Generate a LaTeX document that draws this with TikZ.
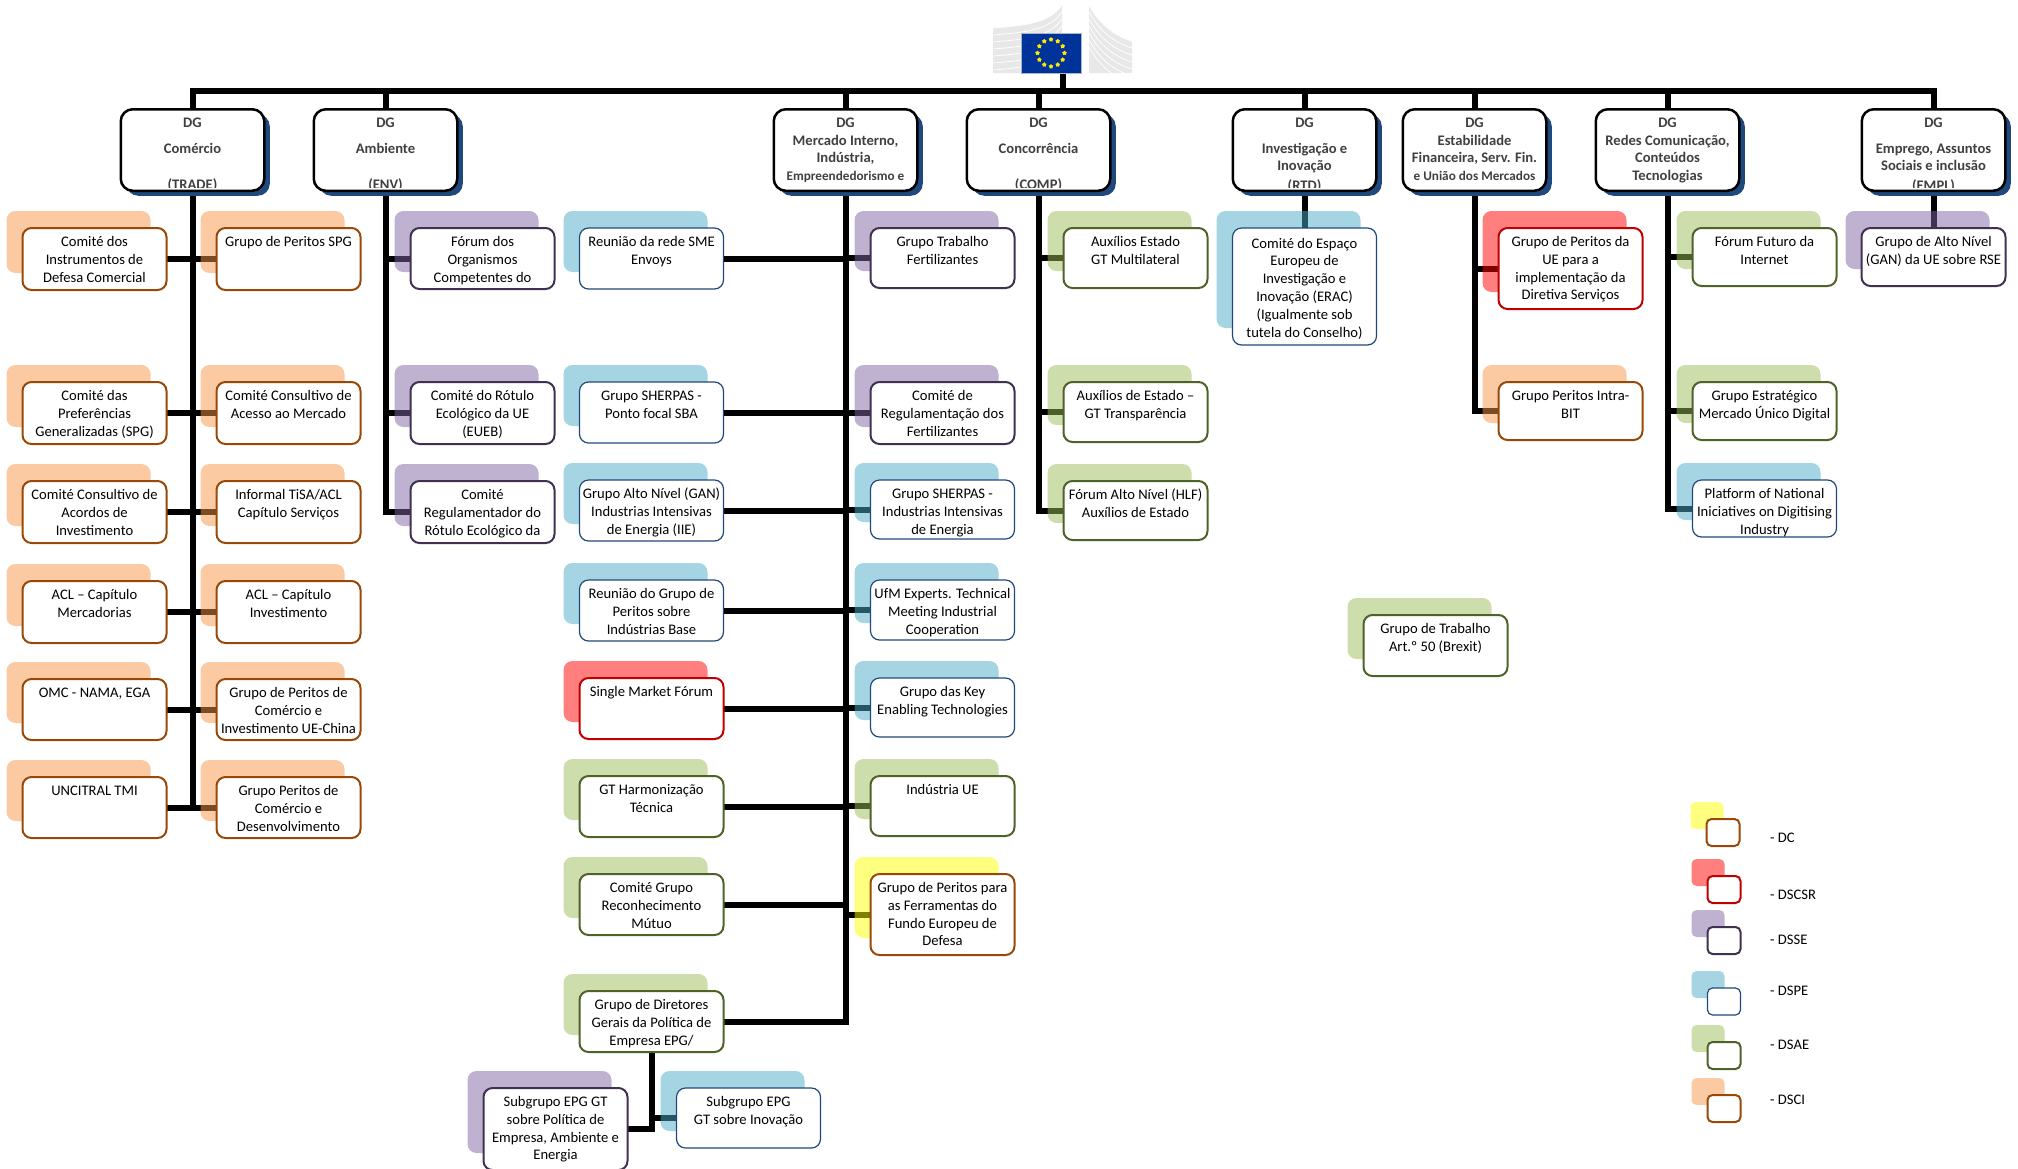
\documentclass[tikz,border=0pt]{standalone}
\usepackage{fontspec}
\setmainfont{Carlito}
\usetikzlibrary{shadows,backgrounds,shapes.geometric,calc}

\definecolor{dscback}{HTML}{FFFF00}
\definecolor{dscsrback}{HTML}{FF0000}
\definecolor{dsseback}{HTML}{8064A2}
\definecolor{dspeback}{HTML}{4BACC6}
\definecolor{dsaeback}{HTML}{9BBB59}
\definecolor{dsciback}{HTML}{F79646}
\definecolor{dsciline}{HTML}{984807}
\definecolor{dscsrline}{HTML}{C00000}
\definecolor{dsseline}{HTML}{403152}
\definecolor{dspeline}{HTML}{1F497D}
\definecolor{dsaeline}{HTML}{4F6228}
\definecolor{dgshadow}{HTML}{1F497D}
\definecolor{dgtextcol}{HTML}{404040}
\definecolor{flagblue}{HTML}{003399}
\definecolor{wing}{HTML}{E8E8E8}

\newcommand{\kidfont}{\fontsize{14.6}{17.8}\selectfont}
\newcommand{\kidtxt}[2]{\parbox[c][\dimexpr#1pt-2pt\relax][t]{144pt}{\centering\rule{0pt}{18.5pt}#2}}

\tikzset{
    kid/.style={draw, fill=white, rounded corners=9pt, anchor=north west, minimum width=144pt,
        inner sep=0pt, outer sep=0pt, line width=2pt, font=\kidfont, xshift=0.5pt, yshift=-1pt},
    back/.style={general shadow={fill=#1, fill opacity=0.5, shadow xshift=-16pt, shadow yshift=17pt}},
    dc/.style={kid, draw=dsciline, back=dscback},
    dscsr/.style={kid, draw=dscsrline, back=dscsrback},
    dsse/.style={kid, draw=dsseline, back=dsseback},
    dspe/.style={kid, draw=dspeline, line width=1.2pt, back=dspeback},
    dsae/.style={kid, draw=dsaeline, back=dsaeback},
    dsci/.style={kid, draw=dsciline, back=dsciback},
    dg/.style n args={2}{draw, fill=white, rounded corners=12pt, anchor=north west, line width=2.5pt,
        minimum width=143.5pt, minimum height=81.5pt, inner sep=0pt, outer sep=0pt, xshift=0.75pt, yshift=-1.25pt,
        general shadow={fill=dgshadow, shadow xshift=5.5pt, shadow yshift=-5pt},
        path picture={
            \clip (path picture bounding box.north west) rectangle ([yshift=3.5pt]path picture bounding box.south east);
            \node[anchor=north, inner sep=0pt, minimum width=0pt, minimum height=0pt, text=dgtextcol, font=\kidfont\bfseries] (#1)
            at (path picture bounding box.north) {\parbox[t]{143.5pt}{\centering\rule{0pt}{18pt}#2}};}},
    small/.style={minimum width=33pt, minimum height=27pt, rounded corners=5pt},
    legtxt/.style={anchor=west, inner sep=0pt, font=\kidfont},
    staricon/.style={star, star points=5, fill=yellow!90!orange, inner sep=0pt, minimum size=5pt},
}

\begin{document}
\begin{tikzpicture}[x=1pt, y=-1pt]
    \useasboundingbox (0,0) rectangle (2018,1168);
    % logo
    \fill[wing] (993,73) -- (993,28) .. controls (1030,25) and (1050,22) .. (1062,5) -- (1062,73) -- cycle;
    \fill[wing] (1089,5) .. controls (1100,25) and (1115,36) .. (1132,41) -- (1132,73) -- (1089,73) -- cycle;
    \foreach \d in {0,7,...,42} {
        \draw[white, line width=0.8pt] (993,28+\d) .. controls (1030,25+\d) and (1050,22+\d) .. (1062,5+\d);
        \draw[white, line width=0.8pt] (1089,5+\d) .. controls (1100,25+\d) and (1115,36+\d) .. (1132,41+\d);
    }
    \node[draw=dspeline!40, fill=flagblue, anchor=north west, minimum width=60pt, minimum height=40pt,
        inner sep=0pt, outer sep=0pt] (flag) at (1021,33) {};
    \foreach \i in {1,...,12} {
        \node[staricon] (star\i) at ($(flag.center)+({30*\i}:13.5pt)$) {};
    }
    \coordinate (logo) at (1062.5,73);
    \coordinate (bar) at (0,91);

    % DG
    \node[dg={tradetxt}{DG\\[8pt]Comércio\\[19pt](TRADE)}] (trade) at (120,108) {};
    \node[dg={envtxt}{DG\\[8pt]Ambiente\\[19pt](ENV)}] (env) at (313,108) {};
    \node[dg={mitxt}{DG\\Mercado Interno,\\Indústria,\\\fontsize{13.2}{17.8}\selectfont Empreendedorismo e}] (mi) at (773,108) {};
    \node[dg={comptxt}{DG\\[8pt]Concorrência\\[19pt](COMP)}] (comp) at (966,108) {};
    \node[dg={rtdtxt}{DG\\[8pt]Investigação e\\Inovação\\[2pt](RTD)}] (rtd) at (1232,108) {};
    \node[dg={fintxt}{DG\\Estabilidade\\Financeira, Serv. Fin.\\\fontsize{13.2}{17.8}\selectfont e União dos Mercados}] (fin) at (1402,108) {};
    \node[dg={redestxt}{DG\\Redes Comunicação,\\Conteúdos\\Tecnologias}] (redes) at (1595,108) {};
    \node[dg={empltxt}{DG\\[8pt]Emprego, Assuntos\\Sociais e inclusão\\[2pt](EMPL)}] (empl) at (1861,108) {};

    % Comercio
    \node[dsci] (defesa) at (22,227) {\kidtxt{64}{Comité dos\\Instrumentos de\\Defesa Comercial}};
    \node[dsci] (prefer) at (22,381) {\kidtxt{64}{Comité das\\Preferências\\Generalizadas (SPG)}};
    \node[dsci] (acordos) at (22,480) {\kidtxt{64}{Comité Consultivo de\\Acordos de\\Investimento}};
    \node[dsci] (aclmerc) at (22,580) {\kidtxt{64}{ACL – Capítulo\\Mercadorias}};
    \node[dsci] (omc) at (22,678) {\kidtxt{63}{OMC - NAMA, EGA}};
    \node[dsci] (uncitral) at (22,776) {\kidtxt{63}{UNCITRAL TMI}};
    \node[dsci] (perspg) at (216,227) {\kidtxt{64}{Grupo de Peritos SPG}};
    \node[dsci] (acesso) at (216,381) {\kidtxt{64}{Comité Consultivo de\\Acesso ao Mercado}};
    \node[dsci] (tisa) at (216,480) {\kidtxt{64}{Informal TiSA/ACL\\Capítulo Serviços}};
    \node[dsci] (aclinv) at (216,580) {\kidtxt{64}{ACL – Capítulo\\Investimento}};
    \node[dsci] (china) at (216,678) {\kidtxt{63}{Grupo de Peritos de\\Comércio e\\Investimento UE-China}};
    \node[dsci] (desenv) at (216,776) {\kidtxt{63}{Grupo Peritos de\\Comércio e\\Desenvolvimento}};

    % Ambiente
    \node[dsse] (organ) at (410,227) {\kidtxt{63}{Fórum dos\\Organismos\\Competentes do}};
    \node[dsse] (eueb) at (410,381) {\kidtxt{64}{Comité do Rótulo\\Ecológico da UE\\(EUEB)}};
    \node[dsse] (regul) at (410,480) {\kidtxt{64}{Comité\\Regulamentador do\\Rótulo Ecológico da}};

    % Mercado Interno
    \node[dspe] (sme) at (579,227) {\kidtxt{63}{Reunião da rede SME\\Envoys}};
    \node[dspe] (sba) at (579,381) {\kidtxt{63}{Grupo SHERPAS -\\Ponto focal SBA}};
    \node[dspe] (gan) at (579,479) {\kidtxt{63}{Grupo Alto Nível (GAN)\\Industrias Intensivas\\de Energia (IIE)}};
    \node[dspe] (base) at (579,579) {\kidtxt{63}{Reunião do Grupo de\\Peritos sobre\\Indústrias Base}};
    \node[dscsr] (single) at (579,677) {\kidtxt{63}{Single Market Fórum}};
    \node[dsae] (harmon) at (579,775) {\kidtxt{63}{GT Harmonização\\Técnica}};
    \node[dsae] (mutuo) at (579,873) {\kidtxt{63}{Comité Grupo\\Reconhecimento\\Mútuo}};
    \node[dsae] (epg) at (579,990) {\kidtxt{63}{Grupo de Diretores\\Gerais da Política de\\Empresa EPG/}};
    \node[dsse] (fert) at (870,227) {\kidtxt{62}{Grupo Trabalho\\Fertilizantes}};
    \node[dsse] (regfert) at (870,381) {\kidtxt{64}{Comité de\\Regulamentação dos\\Fertilizantes}};
    \node[dspe] (sherpa) at (870,479) {\kidtxt{61}{Grupo SHERPAS -\\Industrias Intensivas\\de Energia}};
    \node[dspe] (ufm) at (870,579) {\kidtxt{62}{UfM Experts. Technical\\Meeting Industrial\\Cooperation}};
    \node[dspe] (key) at (870,677) {\kidtxt{61}{Grupo das Key\\Enabling Technologies}};
    \node[dsae] (indust) at (870,775) {\kidtxt{62}{Indústria UE}};
    \node[dc] (defesa2) at (870,873) {\kidtxt{83}{Grupo de Peritos para\\as Ferramentas do\\Fundo Europeu de\\Defesa}};
    \node[dsse] (subamb) at (483,1087) {\kidtxt{84}{Subgrupo EPG GT\\sobre Política de\\Empresa, Ambiente e\\Energia}};
    \node[dspe] (subinov) at (676,1087) {\kidtxt{62}{Subgrupo EPG\\GT sobre Inovação}};

    % Concorrencia
    \node[dsae] (multi) at (1063,227) {\kidtxt{62}{Auxílios Estado\\GT Multilateral}};
    \node[dsae] (transp) at (1063,381) {\kidtxt{62}{Auxílios de Estado –\\GT Transparência}};
    \node[dsae] (hlf) at (1063,480) {\kidtxt{61}{Fórum Alto Nível (HLF)\\Auxílios de Estado}};

    % Investigacao
    \node[dspe] (erac) at (1232,227) {\parbox[c][117pt][t]{144pt}{\centering\rule{0pt}{20pt}Comité do Espaço\\Europeu de\\Investigação e\\Inovação (ERAC)\\(Igualmente sob\\tutela do Conselho)}};

    % Estabilidade
    \node[dscsr] (servicos) at (1498,227) {\kidtxt{83}{Grupo de Peritos da\\UE para a\\implementação da\\Diretiva Serviços}};
    \node[dsci] (intra) at (1498,381) {\kidtxt{60}{Grupo Peritos Intra-\\BIT}};

    % Redes
    \node[dsae] (futuro) at (1692,227) {\kidtxt{60}{Fórum Futuro da\\Internet}};
    \node[dsae] (digital) at (1692,381) {\kidtxt{60}{Grupo Estratégico\\Mercado Único Digital}};
    \node[dspe] (platform) at (1692,479) {\kidtxt{59}{Platform of National\\Iniciatives on Digitising\\Industry}};

    % Emprego
    \node[dsse] (rse) at (1861,227) {\kidtxt{60}{Grupo de Alto Nível\\(GAN) da UE sobre RSE}};

    % Brexit
    \node[dsae] (brexit) at (1363,614) {\kidtxt{63}{Grupo de Trabalho\\Art.º 50 (Brexit)}};

    % legend
    \node[dc, small] (keydc) at (1706,818) {};
    \node[dscsr, small] (keydscsr) at (1707,875) {};
    \node[dsse, small] (keydsse) at (1707,926) {};
    \node[dspe, small] (keydspe) at (1707,987) {};
    \node[dsae, small] (keydsae) at (1707,1041) {};
    \node[dsci, small] (keydsci) at (1707,1094) {};
    \node[legtxt] (txtdc) at (1770,838) {- DC};
    \node[legtxt] (txtdscsr) at (1770,895) {- DSCSR};
    \node[legtxt] (txtdsse) at (1770,940) {- DSSE};
    \node[legtxt] (txtdspe) at (1770,991) {- DSPE};
    \node[legtxt] (txtdsae) at (1770,1045) {- DSAE};
    \node[legtxt] (txtdsci) at (1770,1100) {- DSCI};

    % connectors go under the nodes, the backs tint them
    \begin{scope}[on background layer, every edge/.style={draw, line width=6pt, line cap=rect}]
        \path (logo) edge (logo |- bar);
        \path (trade.north |- bar) edge (empl.north |- bar);
        \path (trade.north) edge (trade.north |- bar);
        \path (env.north) edge (env.north |- bar);
        \path (mi.north) edge (mi.north |- bar);
        \path (comp.north) edge (comp.north |- bar);
        \path (rtd.north) edge (rtd.north |- bar);
        \path (fin.north) edge (fin.north |- bar);
        \path (redes.north) edge (redes.north |- bar);
        \path (empl.north) edge (empl.north |- bar);

        \path (trade.south) edge (trade.south |- uncitral.east);
        \path (defesa.east) edge (perspg.west);
        \path (prefer.east) edge (acesso.west);
        \path (acordos.east) edge (tisa.west);
        \path (aclmerc.east) edge (aclinv.west);
        \path (omc.east) edge (china.west);
        \path (uncitral.east) edge (desenv.west);

        \path (env.south) edge (env.south |- regul.west);
        \path (env.south |- organ.west) edge (organ.west);
        \path (env.south |- eueb.west) edge (eueb.west);
        \path (env.south |- regul.west) edge (regul.west);

        \path (mi.south) edge (mi.south |- epg.east);
        \path (sme.east) edge (mi.south |- sme.east);
        \path (sba.east) edge (mi.south |- sba.east);
        \path (gan.east) edge (mi.south |- gan.east);
        \path (base.east) edge (mi.south |- base.east);
        \path (single.east) edge (mi.south |- single.east);
        \path (harmon.east) edge (mi.south |- harmon.east);
        \path (mutuo.east) edge (mi.south |- mutuo.east);
        \path (epg.east) edge (mi.south |- epg.east);
        \path (mi.south |- fert.west) edge (fert.west);
        \path (mi.south |- regfert.west) edge (regfert.west);
        \path (mi.south |- sherpa.west) edge (sherpa.west);
        \path (mi.south |- ufm.west) edge (ufm.west);
        \path (mi.south |- key.west) edge (key.west);
        \path (mi.south |- indust.west) edge (indust.west);
        \path (mi.south |- defesa2.west) edge (defesa2.west);
        \path (epg.south) edge (epg.south |- subamb.east);
        \path (subamb.east) edge (epg.south |- subamb.east);
        \path (epg.south |- subinov.west) edge (subinov.west);

        \path (comp.south) edge (comp.south |- hlf.west);
        \path (comp.south |- multi.west) edge (multi.west);
        \path (comp.south |- transp.west) edge (transp.west);
        \path (comp.south |- hlf.west) edge (hlf.west);

        \path (rtd.south) edge (erac.north);

        \path (fin.south) edge (fin.south |- intra.west);
        \path (fin.south |- servicos.west) edge (servicos.west);
        \path (fin.south |- intra.west) edge (intra.west);

        \path (redes.south) edge (redes.south |- platform.west);
        \path (redes.south |- futuro.west) edge (futuro.west);
        \path (redes.south |- digital.west) edge (digital.west);
        \path (redes.south |- platform.west) edge (platform.west);

        \path (empl.south) edge (rse.north);
    \end{scope}
\end{tikzpicture}
\end{document}
